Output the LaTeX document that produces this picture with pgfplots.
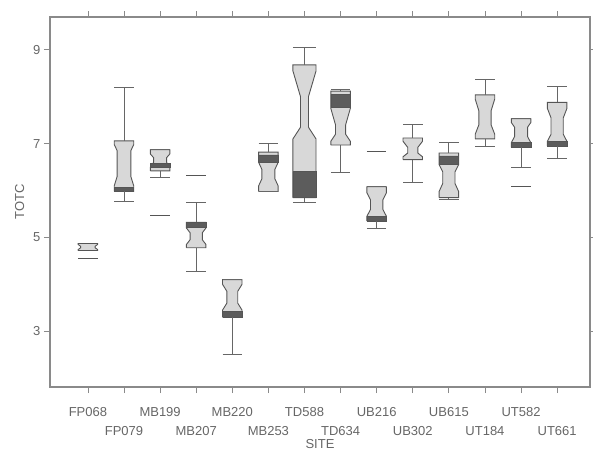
\documentclass[border=0pt]{standalone}
\usepackage{pgfplots}
\pgfplotsset{compat=1.18}
\usepackage{fontspec}
\setmainfont{Liberation Sans}
\definecolor{boxfill}{HTML}{D8D8D8}
\definecolor{boxline}{HTML}{555555}
\definecolor{bandc}{HTML}{5C5C5C}
\definecolor{wc}{HTML}{666666}
\definecolor{axc}{HTML}{8A8A8A}
\definecolor{txt}{HTML}{666666}

\newcommand{\bw}{0.27}
% body: x, q1, a, b, c, d, q3, narrow half width
\newcommand{\nbox}[8]{%
  \pgfmathsetmacro\xa{#1-\bw}\pgfmathsetmacro\xb{#1+\bw}%
  \pgfmathsetmacro\xna{#1-#8}\pgfmathsetmacro\xnb{#1+#8}%
  \addplot[fill=boxfill, draw=boxline, line width=0.9pt, mark=none]
    coordinates {(\xa,#2) (\xa,#3) (\xna,#4) (\xna,#5) (\xa,#6) (\xa,#7)
                 (\xb,#7) (\xb,#6) (\xnb,#5) (\xnb,#4) (\xb,#3) (\xb,#2) (\xa,#2)};
}
% dark band: x, y1, y2
\newcommand{\band}[3]{%
  \pgfmathsetmacro\xa{#1-\bw}\pgfmathsetmacro\xb{#1+\bw}%
  \addplot[fill=bandc, draw=boxline, line width=0.6pt, mark=none]
    coordinates {(\xa,#2) (\xb,#2) (\xb,#3) (\xa,#3) (\xa,#2)};
}
% whisker: x, from, to
\newcommand{\whisk}[3]{%
  \pgfmathsetmacro\xa{#1-\bw}\pgfmathsetmacro\xb{#1+\bw}%
  \addplot[draw=wc, line width=0.9pt, mark=none] coordinates {(#1,#2) (#1,#3)};
  \addplot[draw=wc, line width=0.9pt, mark=none] coordinates {(\xa,#3) (\xb,#3)};
}
% outlier dash: x, y
\newcommand{\odash}[2]{%
  \pgfmathsetmacro\xa{#1-\bw}\pgfmathsetmacro\xb{#1+\bw}%
  \addplot[draw=boxline, line width=1pt, mark=none] coordinates {(\xa,#2) (\xb,#2)};
}

\begin{document}
\begin{tikzpicture}
\begin{axis}[
  scale only axis, width=540pt, height=370pt,
  xmin=-0.05, xmax=14.91, ymin=1.81, ymax=9.70,
  axis line style={draw=axc, line width=1.3pt},
  tick style={draw=axc, line width=0.8pt},
  tick align=outside, major tick length=6pt,
  xtick={1,3,...,13},
  xticklabels={FP068,MB199,MB220,TD588,UB216,UB615,UT582},
  extra x ticks={2,4,...,14},
  extra x tick labels={FP079,MB207,MB253,TD634,UB302,UT184,UT661},
  extra x tick style={xticklabel style={yshift=-19pt}},
  ytick={3,5,7,9},
  /pgf/number format/assume math mode=true,
  ticklabel style={font=\fontsize{13}{15}\selectfont, text=txt},
  xticklabel style={yshift=-11pt},
  xlabel={SITE}, ylabel={TOTC},
  label style={font=\fontsize{13}{15}\selectfont, text=txt},
  xlabel style={at={(axis description cs:0.5,0)}, anchor=north, yshift=-49pt},
  ylabel shift=2pt,
  clip=false,
]
% FP068
\nbox{1}{4.72}{4.74}{4.78}{4.81}{4.85}{4.87}{0.2}
\odash{1}{4.55}
% FP079
\nbox{2}{5.98}{6.10}{6.30}{6.85}{6.98}{7.06}{0.19}
\band{2}{5.98}{6.07}
\whisk{2}{7.06}{8.20}
\whisk{2}{5.98}{5.77}
% MB199
\nbox{3}{6.42}{6.50}{6.60}{6.70}{6.78}{6.87}{0.18}
\band{3}{6.50}{6.57}
\whisk{3}{6.42}{6.28}
\whisk{3}{6.87}{6.88}
\odash{3}{5.47}
% MB207
\nbox{4}{4.78}{4.85}{4.95}{5.10}{5.20}{5.32}{0.17}
\band{4}{5.22}{5.32}
\whisk{4}{5.32}{5.75}
\whisk{4}{4.78}{4.28}
\odash{4}{6.32}
% MB220
\nbox{5}{3.30}{3.45}{3.60}{3.85}{4.00}{4.10}{0.15}
\band{5}{3.30}{3.42}
\whisk{5}{3.30}{2.50}
\whisk{5}{4.10}{4.11}
% MB253
\nbox{6}{5.98}{6.10}{6.25}{6.45}{6.60}{6.82}{0.18}
\band{6}{6.60}{6.76}
\whisk{6}{6.82}{7.00}
\whisk{6}{5.98}{5.97}
% TD588
\renewcommand{\bw}{0.32}
\nbox{7}{5.85}{7.10}{7.35}{8.00}{8.55}{8.68}{0.11}
\band{7}{5.85}{6.40}
\whisk{7}{8.68}{9.06}
\whisk{7}{5.85}{5.74}
\renewcommand{\bw}{0.27}
% TD634
\nbox{8}{6.97}{7.05}{7.20}{7.40}{7.75}{8.12}{0.14}
\band{8}{7.78}{8.05}
\whisk{8}{8.12}{8.15}
\whisk{8}{6.97}{6.38}
% UB216
\nbox{9}{5.35}{5.45}{5.60}{5.80}{5.95}{6.08}{0.17}
\band{9}{5.35}{5.45}
\whisk{9}{5.35}{5.19}
\whisk{9}{6.08}{6.09}
\odash{9}{6.83}
% UB302
\nbox{10}{6.66}{6.72}{6.80}{6.92}{7.05}{7.12}{0.14}
\whisk{10}{7.12}{7.40}
\whisk{10}{6.66}{6.17}
% UB615
\nbox{11}{5.85}{5.98}{6.15}{6.40}{6.55}{6.80}{0.17}
\band{11}{6.55}{6.74}
\whisk{11}{6.80}{7.02}
\whisk{11}{5.85}{5.80}
% UT184
\nbox{12}{7.10}{7.20}{7.40}{7.70}{7.95}{8.04}{0.17}
\whisk{12}{8.04}{8.36}
\whisk{12}{7.10}{6.94}
% UT582
\nbox{13}{6.92}{7.02}{7.15}{7.35}{7.45}{7.53}{0.18}
\band{13}{6.92}{7.02}
\whisk{13}{6.92}{6.49}
\whisk{13}{7.53}{7.54}
\odash{13}{6.09}
% UT661
\nbox{14}{6.95}{7.05}{7.20}{7.55}{7.75}{7.88}{0.17}
\band{14}{6.95}{7.04}
\whisk{14}{7.88}{8.21}
\whisk{14}{6.95}{6.68}
\end{axis}
\pgfresetboundingbox
\path ([shift={(-50pt,-64pt)}]current axis.south west) rectangle ([shift={(3pt,17pt)}]current axis.north east);
\end{tikzpicture}
\end{document}
